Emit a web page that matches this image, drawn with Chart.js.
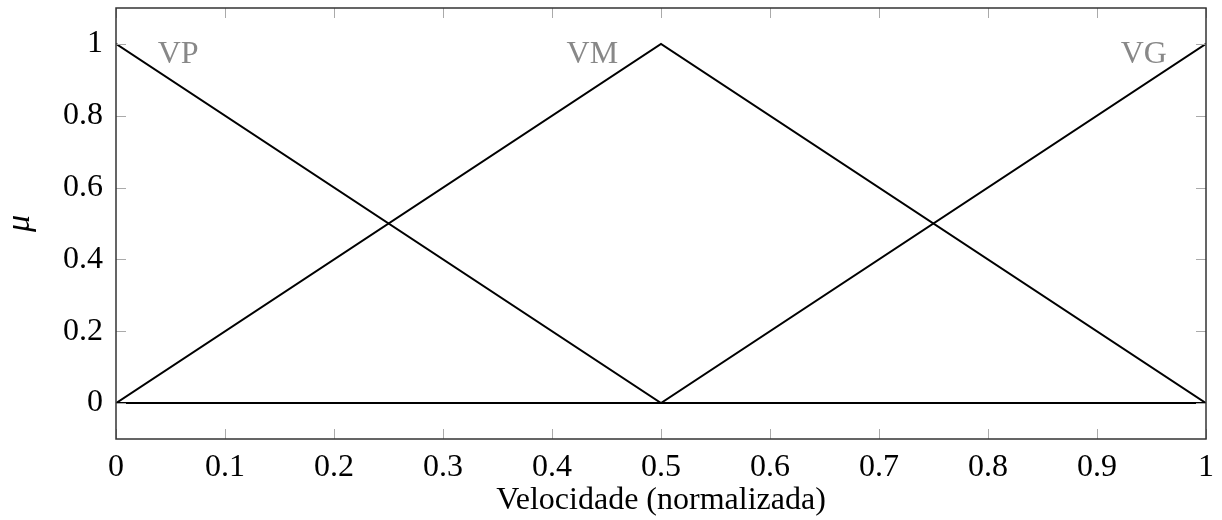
<!DOCTYPE html>
<html lang="pt">
  <head>
    <meta charset="UTF-8" />
    <title>Velocidade</title>
    <style>
      body { margin: 0; background: #fff; }
      .chart-container { position: relative; width: 1222px; height: 520px; }
    </style>
    <script src="https://cdn.jsdelivr.net/npm/chart.js"></script>
  </head>
  <body>
    <div class="chart-container">
      <canvas id="myChart"></canvas>
    </div>
    <script>
      // membership functions (x = velocidade normalizada, y = mu)
      const xs = [0, 0.5, 1];
      const vp = [1, 0, 0];
      const vm = [0, 1, 0];
      const vg = [0, 0, 1];

      const setNames = ['VP', 'VM', 'VG'];
      const labelX = [0.057, 0.437, 0.943];
      const labelY = [0.97, 0.97, 0.97];

      const xTicks = [0, 0.1, 0.2, 0.3, 0.4, 0.5, 0.6, 0.7, 0.8, 0.9, 1];
      const yTicks = [0, 0.2, 0.4, 0.6, 0.8, 1];

      const serif = "'Liberation Serif', 'DejaVu Serif', serif";

      function toPoints(ys) {
        return xs.map((x, i) => ({ x: x, y: ys[i] }));
      }

      function lineSet(ys) {
        return {
          data: toPoints(ys),
          borderColor: '#000',
          borderWidth: 2,
          pointRadius: 0,
          fill: false,
          tension: 0
        };
      }

      // box + inner ticks + set names
      const decor = {
        id: 'decor',
        afterDatasetsDraw(chart) {
          const ctx = chart.ctx;
          const a = chart.chartArea;
          const sx = chart.scales.x;
          const sy = chart.scales.y;
          ctx.save();
          ctx.strokeStyle = '#aaa';
          ctx.lineWidth = 1;
          xTicks.forEach(t => {
            const px = Math.round(sx.getPixelForValue(t)) + 0.5;
            ctx.beginPath();
            ctx.moveTo(px, a.bottom); ctx.lineTo(px, a.bottom - 10);
            ctx.moveTo(px, a.top); ctx.lineTo(px, a.top + 10);
            ctx.stroke();
          });
          yTicks.forEach(t => {
            const py = Math.round(sy.getPixelForValue(t)) + 0.5;
            ctx.beginPath();
            ctx.moveTo(a.left, py); ctx.lineTo(a.left + 10, py);
            ctx.moveTo(a.right, py); ctx.lineTo(a.right - 10, py);
            ctx.stroke();
          });
          ctx.strokeStyle = '#333';
          ctx.lineWidth = 1.5;
          ctx.strokeRect(a.left, a.top, a.right - a.left, a.bottom - a.top);

          ctx.fillStyle = '#888';
          ctx.font = '32px ' + serif;
          ctx.textAlign = 'center';
          ctx.textBaseline = 'middle';
          setNames.forEach((n, i) => {
            ctx.fillText(n, sx.getPixelForValue(labelX[i]), sy.getPixelForValue(labelY[i]));
          });
          ctx.restore();
        }
      };

      const ctx = document.getElementById('myChart').getContext('2d');
      const myChart = new Chart(ctx, {
        type: 'line',
        data: {
          datasets: [lineSet(vp), lineSet(vm), lineSet(vg)]
        },
        options: {
          responsive: true,
          maintainAspectRatio: false,
          animation: false,
          layout: { padding: { top: 8, right: 16, left: 0, bottom: 0 } },
          plugins: { legend: { display: false }, tooltip: { enabled: false } },
          scales: {
            x: {
              type: 'linear',
              min: 0,
              max: 1,
              afterBuildTicks(s) { s.ticks = xTicks.map(v => ({ value: v })); },
              afterFit(s) {
                s.height = 81;
                s.paddingLeft = 0; s.paddingRight = 0;
              },
              grid: { display: false, drawTicks: false },
              border: { display: false },
              ticks: {
                color: '#000',
                padding: 9,
                maxRotation: 0,
                font: { family: serif, size: 32 },
                callback: v => String(v)
              },
              title: {
                display: true,
                text: 'Velocidade (normalizada)',
                color: '#000',
                font: { family: serif, size: 32 },
                padding: { top: 0, bottom: 0 }
              }
            },
            y: {
              type: 'linear',
              min: -0.1,
              max: 1.1,
              afterBuildTicks(s) { s.ticks = yTicks.map(v => ({ value: v })); },
              afterFit(s) {
                s.width = 116;
                s.paddingTop = 0; s.paddingBottom = 0;
              },
              grid: { display: false, drawTicks: false },
              border: { display: false },
              ticks: {
                color: '#000',
                padding: 13,
                font: { family: serif, size: 32 },
                callback: v => String(v)
              },
              title: {
                display: true,
                text: 'μ',
                color: '#000',
                font: { family: serif, size: 34, style: 'italic' },
                padding: { top: 0, bottom: 2 }
              }
            }
          }
        },
        plugins: [decor]
      });
    </script>
  </body>
</html>
